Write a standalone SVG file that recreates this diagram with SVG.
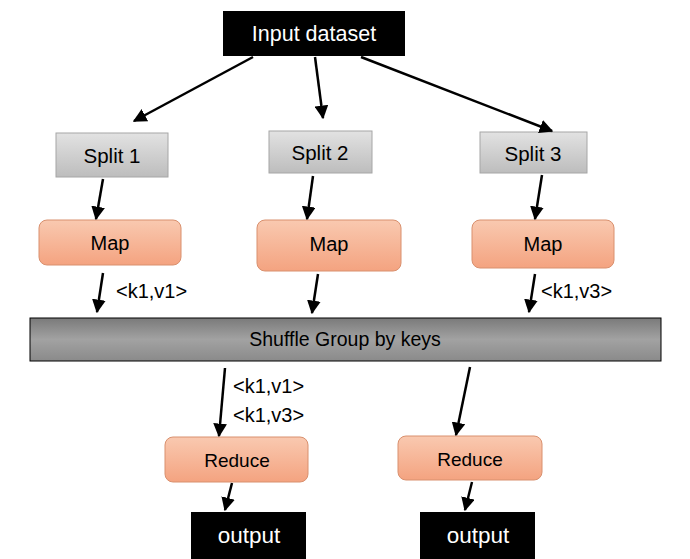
<svg xmlns="http://www.w3.org/2000/svg" width="690" height="559" viewBox="0 0 690 559">
<style>
text{font-family:"Liberation Sans",Arial,sans-serif;text-anchor:middle;dominant-baseline:central}
.blk{fill:#000}
.wt{fill:#fff}
.split{fill:url(#gSplit);stroke:#a6a6a6;stroke-width:1}
.org{fill:url(#gOrg);stroke:#d9906e;stroke-width:1}
.lbl{fill:#000;font-size:20px;text-anchor:start}
.conn line{stroke:#000;stroke-width:2.5;marker-end:url(#ah)}
</style>
<defs>
<linearGradient id="gSplit" x1="0" y1="0" x2="0" y2="1"><stop offset="0" stop-color="#e2e2e2"/><stop offset="1" stop-color="#bdbdbd"/></linearGradient>
<linearGradient id="gOrg" x1="0" y1="0" x2="0" y2="1"><stop offset="0" stop-color="#f9c9b0"/><stop offset="1" stop-color="#f4a380"/></linearGradient>
<linearGradient id="gShuf" x1="0" y1="0" x2="0" y2="1"><stop offset="0" stop-color="#7a7a7a"/><stop offset="0.5" stop-color="#a2a2a2"/><stop offset="1" stop-color="#8a8a8a"/></linearGradient>
<marker id="ah" viewBox="0 0 10 10" refX="9" refY="5" markerWidth="5.5" markerHeight="5.5" orient="auto" markerUnits="strokeWidth"><path d="M0,0 L10,5 L0,10 z" fill="#000"/></marker>
</defs>
<rect width="690" height="559" fill="#fff"/>
<g id="input"><rect x="223" y="11" width="182" height="45" class="blk"/><text x="314" y="34" class="wt" style="font-size:21.5px">Input dataset</text></g>
<g id="split1"><rect x="56" y="133" width="112" height="44" class="split"/><text x="112" y="155" style="font-size:20.5px">Split 1</text></g>
<g id="split2"><rect x="269" y="131" width="103" height="42" class="split"/><text x="320" y="152" style="font-size:20.5px">Split 2</text></g>
<g id="split3"><rect x="480" y="132" width="107" height="41" class="split"/><text x="533" y="153" style="font-size:20.5px">Split 3</text></g>
<g id="map1"><rect x="39" y="220" width="142" height="45" rx="8" class="org"/><text x="110" y="243" style="font-size:20px">Map</text></g>
<g id="map2"><rect x="257" y="220" width="144" height="51" rx="8" class="org"/><text x="329" y="244" style="font-size:20px">Map</text></g>
<g id="map3"><rect x="472" y="220" width="142" height="48" rx="8" class="org"/><text x="543" y="244" style="font-size:20px">Map</text></g>
<g id="shuffle"><rect x="30" y="318" width="631" height="43" fill="url(#gShuf)" stroke="#000" stroke-width="1"/><text x="345" y="339" style="font-size:19.5px">Shuffle Group by keys</text></g>
<g id="reduce1"><rect x="165" y="437" width="143" height="45" rx="8" class="org"/><text x="237" y="460" style="font-size:19px">Reduce</text></g>
<g id="reduce2"><rect x="398" y="436" width="144" height="44" rx="8" class="org"/><text x="470" y="459" style="font-size:19px">Reduce</text></g>
<g id="output1"><rect x="191" y="512" width="115" height="47" class="blk"/><text x="249" y="535" class="wt" style="font-size:22.5px">output</text></g>
<g id="output2"><rect x="420" y="512" width="115" height="47" class="blk"/><text x="478" y="535" class="wt" style="font-size:22.5px">output</text></g>
<g id="labels">
<text x="116" y="291" class="lbl">&lt;k1,v1&gt;</text>
<text x="541" y="291" class="lbl">&lt;k1,v3&gt;</text>
<text x="233" y="386" class="lbl">&lt;k1,v1&gt;</text>
<text x="233" y="415" class="lbl">&lt;k1,v3&gt;</text>
</g>
<g id="connectors" class="conn">
<line x1="253" y1="57" x2="134" y2="121"/>
<line x1="315" y1="57" x2="323" y2="118"/>
<line x1="361" y1="57" x2="552" y2="131"/>
<line x1="103" y1="179" x2="96" y2="219"/>
<line x1="313" y1="176" x2="307" y2="219"/>
<line x1="542" y1="175" x2="535" y2="219"/>
<line x1="103" y1="273" x2="97" y2="312"/>
<line x1="318" y1="274" x2="312" y2="313"/>
<line x1="535" y1="274" x2="529" y2="312"/>
<line x1="225" y1="368" x2="219" y2="436"/>
<line x1="470" y1="367" x2="456" y2="435"/>
<line x1="232" y1="483" x2="225" y2="510"/>
<line x1="472" y1="482" x2="465" y2="510"/>
</g>
</svg>
